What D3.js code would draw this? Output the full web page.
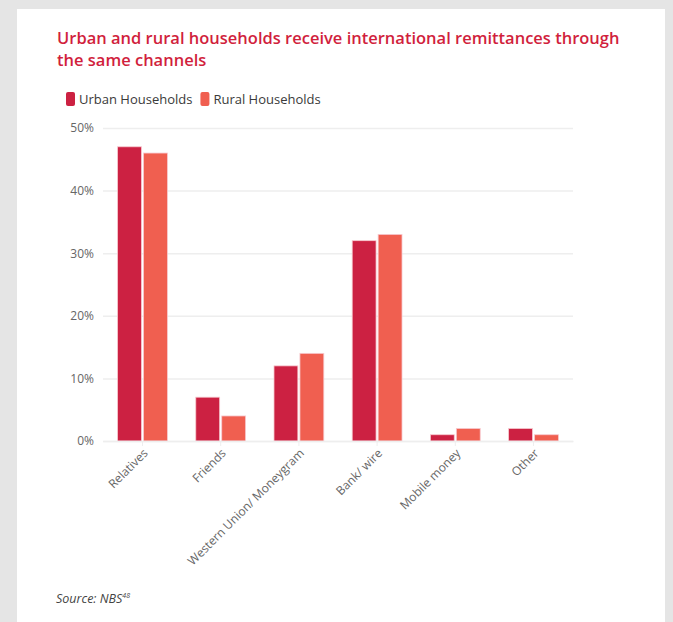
<!DOCTYPE html>
<html>
<head>
<meta charset="utf-8">
<script src="https://cdn.jsdelivr.net/npm/d3@7"></script>
<style>
  body { margin: 0; background: #e5e5e5; font-family: 'Open Sans', sans-serif; }
  .axis text { font-family: 'Open Sans', sans-serif; }
</style>
</head>
<body>
<div id="chart"></div>
<script>
const categories = ['Relatives', 'Friends', 'Western Union/ Moneygram', 'Bank/ wire', 'Mobile money', 'Other']
const seriesNames = ['Urban Households', 'Rural Households']
const urban = [47, 7, 12, 32, 1, 2]
const rural = [46, 4, 14, 33, 2, 1]
const yTicks = [0, 10, 20, 30, 40, 50]

const colors = ['#cc2142', '#f05f50']

const W = 673, H = 622
const margin = { top: 128, right: 100, bottom: 181, left: 103 }
const width = W - margin.left - margin.right
const height = H - margin.top - margin.bottom

const svg = d3.select('#chart')
  .append('svg')
  .attr('width', W)
  .attr('height', H)

// white card
svg.append('rect')
  .attr('x', 17).attr('y', 9)
  .attr('width', 648).attr('height', H)
  .attr('fill', '#fff')

// title
const title = svg.append('text')
  .attr('x', 57).attr('y', 44)
  .attr('fill', '#d11f3d')
  .style('font-size', '16.5px')
  .style('font-weight', 600)
title.append('tspan').attr('x', 57).text('Urban and rural households receive international remittances through')
title.append('tspan').attr('x', 57).attr('dy', 22).text('the same channels')

// legend
const legend = svg.append('g').attr('transform', 'translate(66,92)')
let lx = 0
seriesNames.forEach((name, i) => {
  const g = legend.append('g').attr('transform', `translate(${lx},0)`)
  g.append('rect').attr('width', 9).attr('height', 14).attr('rx', 2).attr('fill', colors[i])
  const t = g.append('text').attr('x', 13).attr('y', 11.5)
    .attr('fill', '#3a3a3a')
    .style('font-size', '13px')
    .text(name)
  lx += 13 + t.node().getComputedTextLength() + 8
})

const g = svg.append('g').attr('transform', `translate(${margin.left},${margin.top})`)

const x = d3.scaleBand()
  .domain(categories)
  .range([0, width])
  .paddingInner(0.31)
  .paddingOuter(0.16)

const xInner = d3.scaleBand()
  .domain(seriesNames)
  .range([0, x.bandwidth()])
  .padding(0.08)

const y = d3.scaleLinear()
  .domain([0, 50])
  .range([height, 0])

// grid + y labels
const yAxis = d3.axisLeft(y)
  .tickValues(yTicks)
  .tickSize(-width)
  .tickFormat(d => d + '%')

g.append('g')
  .attr('class', 'axis y-axis')
  .call(yAxis)
  .call(s => s.select('.domain').remove())
  .call(s => s.selectAll('line').attr('stroke', '#eeeeee').attr('stroke-width', 1.5))
  .call(s => s.selectAll('text').attr('x', -9).attr('fill', '#666').style('font-size', '12px'))

// bars
const rows = categories.map((c, i) => ({ cat: c, values: [urban[i], rural[i]] }))

const groups = g.selectAll('.group')
  .data(rows)
  .enter()
  .append('g')
  .attr('class', 'group')
  .attr('transform', d => `translate(${x(d.cat)},0)`)

groups.selectAll('rect')
  .data(d => d.values.map((v, i) => ({ key: seriesNames[i], v: v, i: i })))
  .enter()
  .append('rect')
  .attr('x', d => xInner(d.key))
  .attr('y', d => y(d.v))
  .attr('width', xInner.bandwidth())
  .attr('height', d => height - y(d.v))
  .attr('fill', d => colors[d.i])
  .attr('stroke', '#f7c9cf')
  .attr('stroke-width', 0.8)

// x axis
const xAxis = d3.axisBottom(x).tickSize(5).tickSizeOuter(0)

g.append('g')
  .attr('class', 'axis x-axis')
  .attr('transform', `translate(0,${height})`)
  .call(xAxis)
  .call(s => s.select('.domain').attr('stroke', '#eeeeee').attr('stroke-width', 1.5))
  .call(s => s.selectAll('line').attr('stroke', '#eeeeee'))
  .call(s => s.selectAll('text')
    .attr('fill', '#666')
    .style('font-size', '12px')
    .attr('text-anchor', 'end')
    .attr('y', 0)
    .attr('dy', '0.35em')
    .attr('transform', 'translate(3,10) rotate(-45)'))

// source
const src = svg.append('text')
  .attr('x', 56).attr('y', 603)
  .attr('fill', '#444')
  .style('font-size', '12.5px')
  .style('font-style', 'italic')
src.append('tspan').text('Source: NBS')
src.append('tspan').attr('dy', -5).style('font-size', '7px').text('48')
</script>
</body>
</html>
